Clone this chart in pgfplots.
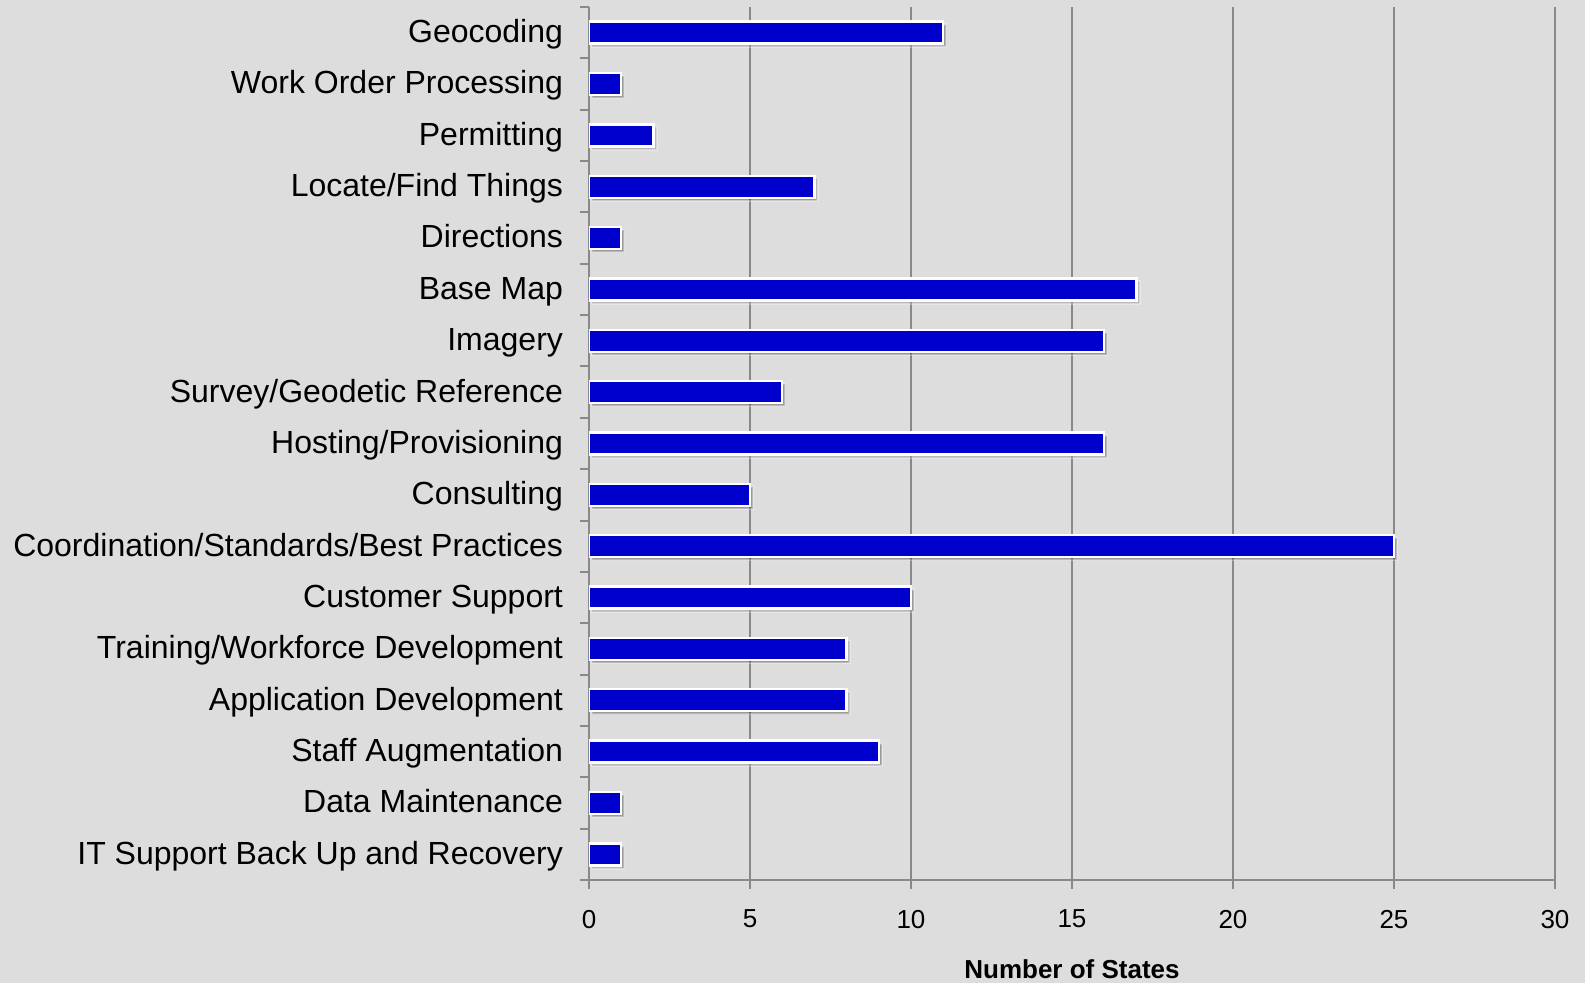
\documentclass[border=0pt]{standalone}
\usepackage{fontspec}
\setmainfont{Liberation Sans}
\usepackage{pgfplots}
\pgfplotsset{compat=1.18}
\usetikzlibrary{shadows}

\definecolor{bgcol}{RGB}{221,221,221}
\definecolor{barblue}{RGB}{0,0,204}
\definecolor{gridgray}{RGB}{137,137,137}

\begin{document}
\begin{tikzpicture}
  % page background, sized to the reference; it also fixes the picture's size
  \fill[bgcol] (-294.5pt,-51.5pt) rectangle (498pt,440pt);
  \useasboundingbox (-294.5pt,-51.5pt) rectangle (498pt,440pt);
  \begin{axis}[
      scale only axis,
      width=483pt,
      height=436.5pt,
      xbar,
      bar width=11pt,
      xmin=0, xmax=30,
      ymin=-0.5, ymax=16.5,
      y dir=reverse,
      axis x line*=bottom,
      axis y line*=left,
      axis line style={-, gridgray, line width=1pt},
      tick align=outside,
      major tick length=4.5pt,
      tick style={gridgray, line width=1pt},
      xtick={0,5,...,30},
      xmajorgrids,
      major grid style={gridgray, line width=1pt},
      /pgf/number format/assume math mode=true,
      xticklabel style={font=\fontsize{13}{15}\selectfont, yshift=-7pt},
      ytick={-0.5,0.5,...,16.5},
      yticklabel={\mbox{}},
      extra y ticks={0,1,...,16},
      extra y tick style={tick style={draw=none},
        yticklabel style={anchor=east, text height=11.5pt, text depth=0pt,
          yshift=0.8pt}},
      extra y tick labels={
        Geocoding,
        Work Order Processing,
        Permitting,
        Locate/Find Things~,
        Directions,
        Base Map,
        Imagery,
        Survey/Geodetic Reference,
        Hosting/Provisioning,
        Consulting,
        Coordination/Standards/Best Practices,
        Customer Support,
        Training/Workforce Development,
        Application Development,
        Staff Augmentation,
        Data Maintenance,
        IT Support Back Up and Recovery},
      yticklabel style={font=\fontsize{16}{19}\selectfont, xshift=-5pt},
      xlabel={Number of States},
      every axis x label/.style={at={(axis description cs:0.5,0)}, anchor=north,
        yshift=-36.5pt, font=\bfseries\fontsize{13}{15}\selectfont},
    ]
    \addplot[fill=barblue, draw=white, line width=1.2pt,
      drop shadow={shadow xshift=1.5pt, shadow yshift=-1.5pt, fill=black, opacity=0.3}]
      coordinates {
        (11,0) (1,1) (2,2) (7,3) (1,4) (17,5) (16,6) (6,7) (16,8)
        (5,9) (25,10) (10,11) (8,12) (8,13) (9,14) (1,15) (1,16)
      };
  \end{axis}
\end{tikzpicture}
\end{document}
